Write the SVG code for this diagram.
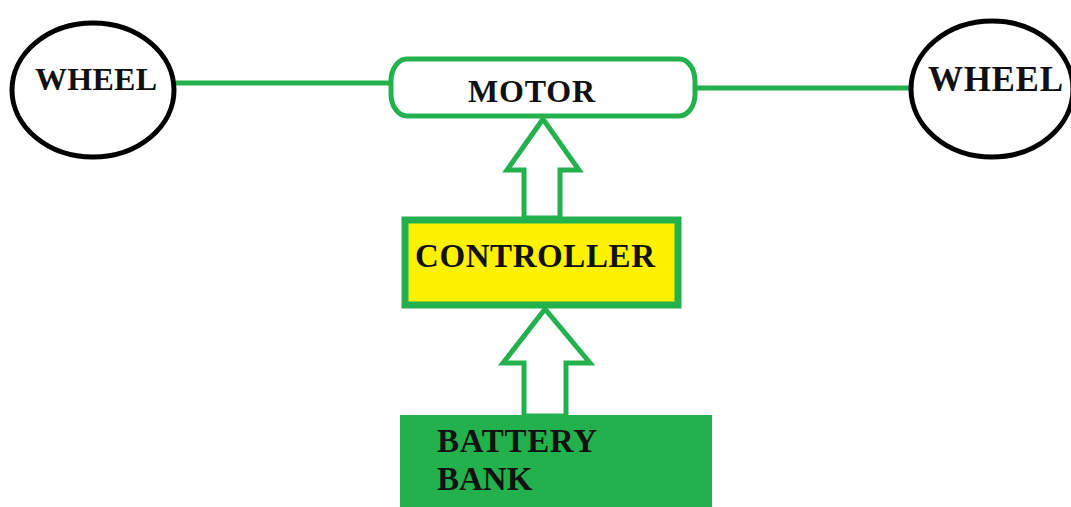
<svg xmlns="http://www.w3.org/2000/svg" width="1071" height="507" viewBox="0 0 1071 507">
<style>
.lbl{font-family:"Liberation Serif","Times New Roman",serif;font-weight:bold;fill:#111}
.wheel{fill:#fff;stroke:#000;stroke-width:5}
.link{stroke:#22b14c;stroke-width:5;fill:none}
.arrow{fill:#fff;stroke:#22b14c;stroke-width:5;stroke-linejoin:miter}
</style>
<rect width="1071" height="507" fill="#fff"/>
<g id="connectors">
<line class="link" x1="176" y1="83" x2="392" y2="83"/>
<line class="link" x1="694" y1="88" x2="911" y2="88"/>
<path class="arrow" d="M543,119 L507,170 L524,170 L524,218 L560,218 L560,170 L579,170 Z"/>
<path class="arrow" d="M545,309 L503,363 L524,363 L524,416 L566,416 L566,363 L590,363 Z"/>
</g>
<g id="wheel-left">
<ellipse class="wheel" cx="93" cy="90" rx="81" ry="67"/>
<text class="lbl" x="35" y="90" font-size="32" textLength="122">WHEEL</text>
</g>
<g id="wheel-right">
<ellipse class="wheel" cx="992" cy="89" rx="81" ry="68"/>
<text class="lbl" x="928" y="91" font-size="35" textLength="135">WHEEL</text>
</g>
<g id="motor">
<rect x="391" y="59" width="304" height="57" rx="16" ry="22" fill="#fff" stroke="#22b14c" stroke-width="5"/>
<text class="lbl" x="468" y="102" font-size="32" textLength="127">MOTOR</text>
</g>
<g id="controller">
<rect x="405" y="220" width="273" height="85" fill="#fff200" stroke="#22b14c" stroke-width="7"/>
<text class="lbl" x="415" y="267" font-size="33" textLength="240">CONTROLLER</text>
</g>
<g id="battery">
<rect x="400" y="415" width="312" height="92" fill="#22b14c"/>
<text class="lbl" x="437" y="452" font-size="33" textLength="160">BATTERY</text>
<text class="lbl" x="437" y="490" font-size="33">BANK</text>
</g>
</svg>
